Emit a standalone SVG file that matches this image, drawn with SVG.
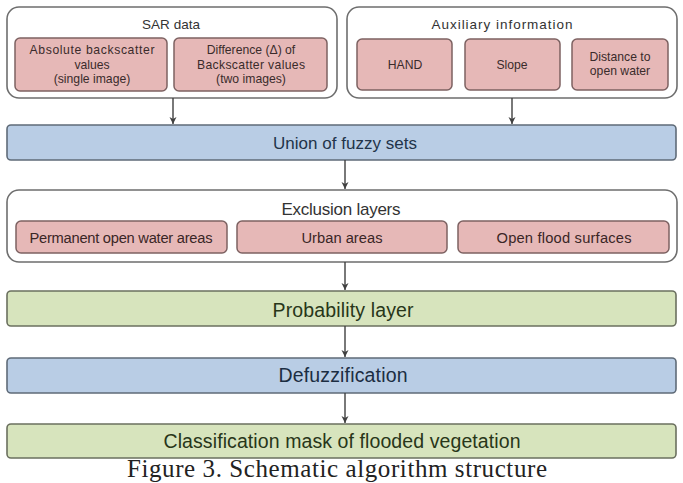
<svg xmlns="http://www.w3.org/2000/svg" width="683" height="483" viewBox="0 0 683 483">
<defs>
<style>
.cont{fill:#ffffff;stroke:#6e6e6e;stroke-width:1.6}
.pink{fill:#e6b8b7;stroke:#7d6262;stroke-width:1.5}
.blue{fill:#b9cde5;stroke:#5f6b78;stroke-width:1.6}
.green{fill:#d7e4bd;stroke:#6b705f;stroke-width:1.6}
text{font-family:"Liberation Sans",Arial,sans-serif;text-anchor:middle}
.t1{font-size:13.5px;fill:#333333}
.ts{font-size:12.2px;fill:#3a2b2b}
.te{font-size:14.7px;fill:#3a2626}
.tb{font-size:17px;fill:#22344a}
.tl{font-size:19.5px}
.tg{fill:#283619}
.tbl{fill:#1c2d42}
.conn line{stroke:#404040;stroke-width:1.4}
.cap{font-family:"Liberation Serif","Times New Roman",serif;font-size:25px;fill:#222}
</style>
<marker id="ah" markerWidth="10" markerHeight="10" refX="8" refY="5" orient="auto" markerUnits="userSpaceOnUse">
<path d="M1,1.5 L8,5 L1,8.5 L3,5 Z" fill="#404040"/>
</marker>
</defs>

<g id="sar">
<rect class="cont" x="7" y="7" width="330" height="91" rx="12"/>
<text class="t1" x="171" y="29" textLength="58">SAR data</text>
<g id="abs">
<rect class="pink" x="15" y="38" width="152" height="53" rx="5"/>
<text class="ts" x="92" y="54" textLength="125">Absolute backscatter</text>
<text class="ts" x="92" y="69">values</text>
<text class="ts" x="92" y="83">(single image)</text>
</g>
<g id="diff">
<rect class="pink" x="174" y="38" width="153" height="53" rx="5"/>
<text class="ts" x="251" y="54">Difference (Δ) of</text>
<text class="ts" x="251" y="69" textLength="108">Backscatter values</text>
<text class="ts" x="251" y="83">(two images)</text>
</g>
</g>

<g id="aux">
<rect class="cont" x="347" y="7" width="330" height="91" rx="12"/>
<text class="t1" x="502" y="29" textLength="141">Auxiliary information</text>
<g id="hand">
<rect class="pink" x="357" y="39" width="95" height="51" rx="5"/>
<text class="ts" x="405" y="69">HAND</text>
</g>
<g id="slope">
<rect class="pink" x="465" y="39" width="95" height="51" rx="5"/>
<text class="ts" x="512" y="69">Slope</text>
</g>
<g id="dist">
<rect class="pink" x="572" y="39" width="96" height="51" rx="5"/>
<text class="ts" x="620" y="61">Distance to</text>
<text class="ts" x="620" y="75">open water</text>
</g>
</g>

<g id="union">
<rect class="blue" x="7" y="125" width="669" height="35" rx="4"/>
<text class="tb" x="345" y="149" textLength="144">Union of fuzzy sets</text>
</g>

<g id="exclusion">
<rect class="cont" x="7" y="190" width="670" height="72" rx="12"/>
<text class="tb" x="341" y="215" style="fill:#333" textLength="119">Exclusion layers</text>
<g id="perm">
<rect class="pink" x="16" y="221" width="211" height="32" rx="5"/>
<text class="te" x="121" y="243" textLength="183">Permanent open water areas</text>
</g>
<g id="urban">
<rect class="pink" x="237" y="221" width="210" height="32" rx="5"/>
<text class="te" x="342" y="243" textLength="81">Urban areas</text>
</g>
<g id="flood">
<rect class="pink" x="458" y="221" width="211" height="32" rx="5"/>
<text class="te" x="564" y="243" textLength="135">Open flood surfaces</text>
</g>
</g>

<g id="prob">
<rect class="green" x="7" y="291" width="669" height="35" rx="4"/>
<text class="tl tg" x="343" y="317" textLength="141">Probability layer</text>
</g>

<g id="defuzz">
<rect class="blue" x="7" y="358" width="669" height="35" rx="4"/>
<text class="tl tbl" x="343" y="382" textLength="129">Defuzzification</text>
</g>

<g id="classif">
<rect class="green" x="7" y="424" width="669" height="34" rx="4"/>
<text class="tl tg" x="342" y="448" textLength="357">Classification mask of flooded vegetation</text>
</g>

<g id="connectors" class="conn">
<line x1="173" y1="98" x2="173" y2="124" marker-end="url(#ah)"/>
<line x1="512" y1="98" x2="512" y2="124" marker-end="url(#ah)"/>
<line x1="345" y1="160" x2="345" y2="189" marker-end="url(#ah)"/>
<line x1="345" y1="262" x2="345" y2="290" marker-end="url(#ah)"/>
<line x1="345" y1="326" x2="345" y2="357" marker-end="url(#ah)"/>
<line x1="345" y1="393" x2="345" y2="423" marker-end="url(#ah)"/>
</g>

<text class="cap" x="337" y="477" textLength="420">Figure 3. Schematic algorithm structure</text>
</svg>
